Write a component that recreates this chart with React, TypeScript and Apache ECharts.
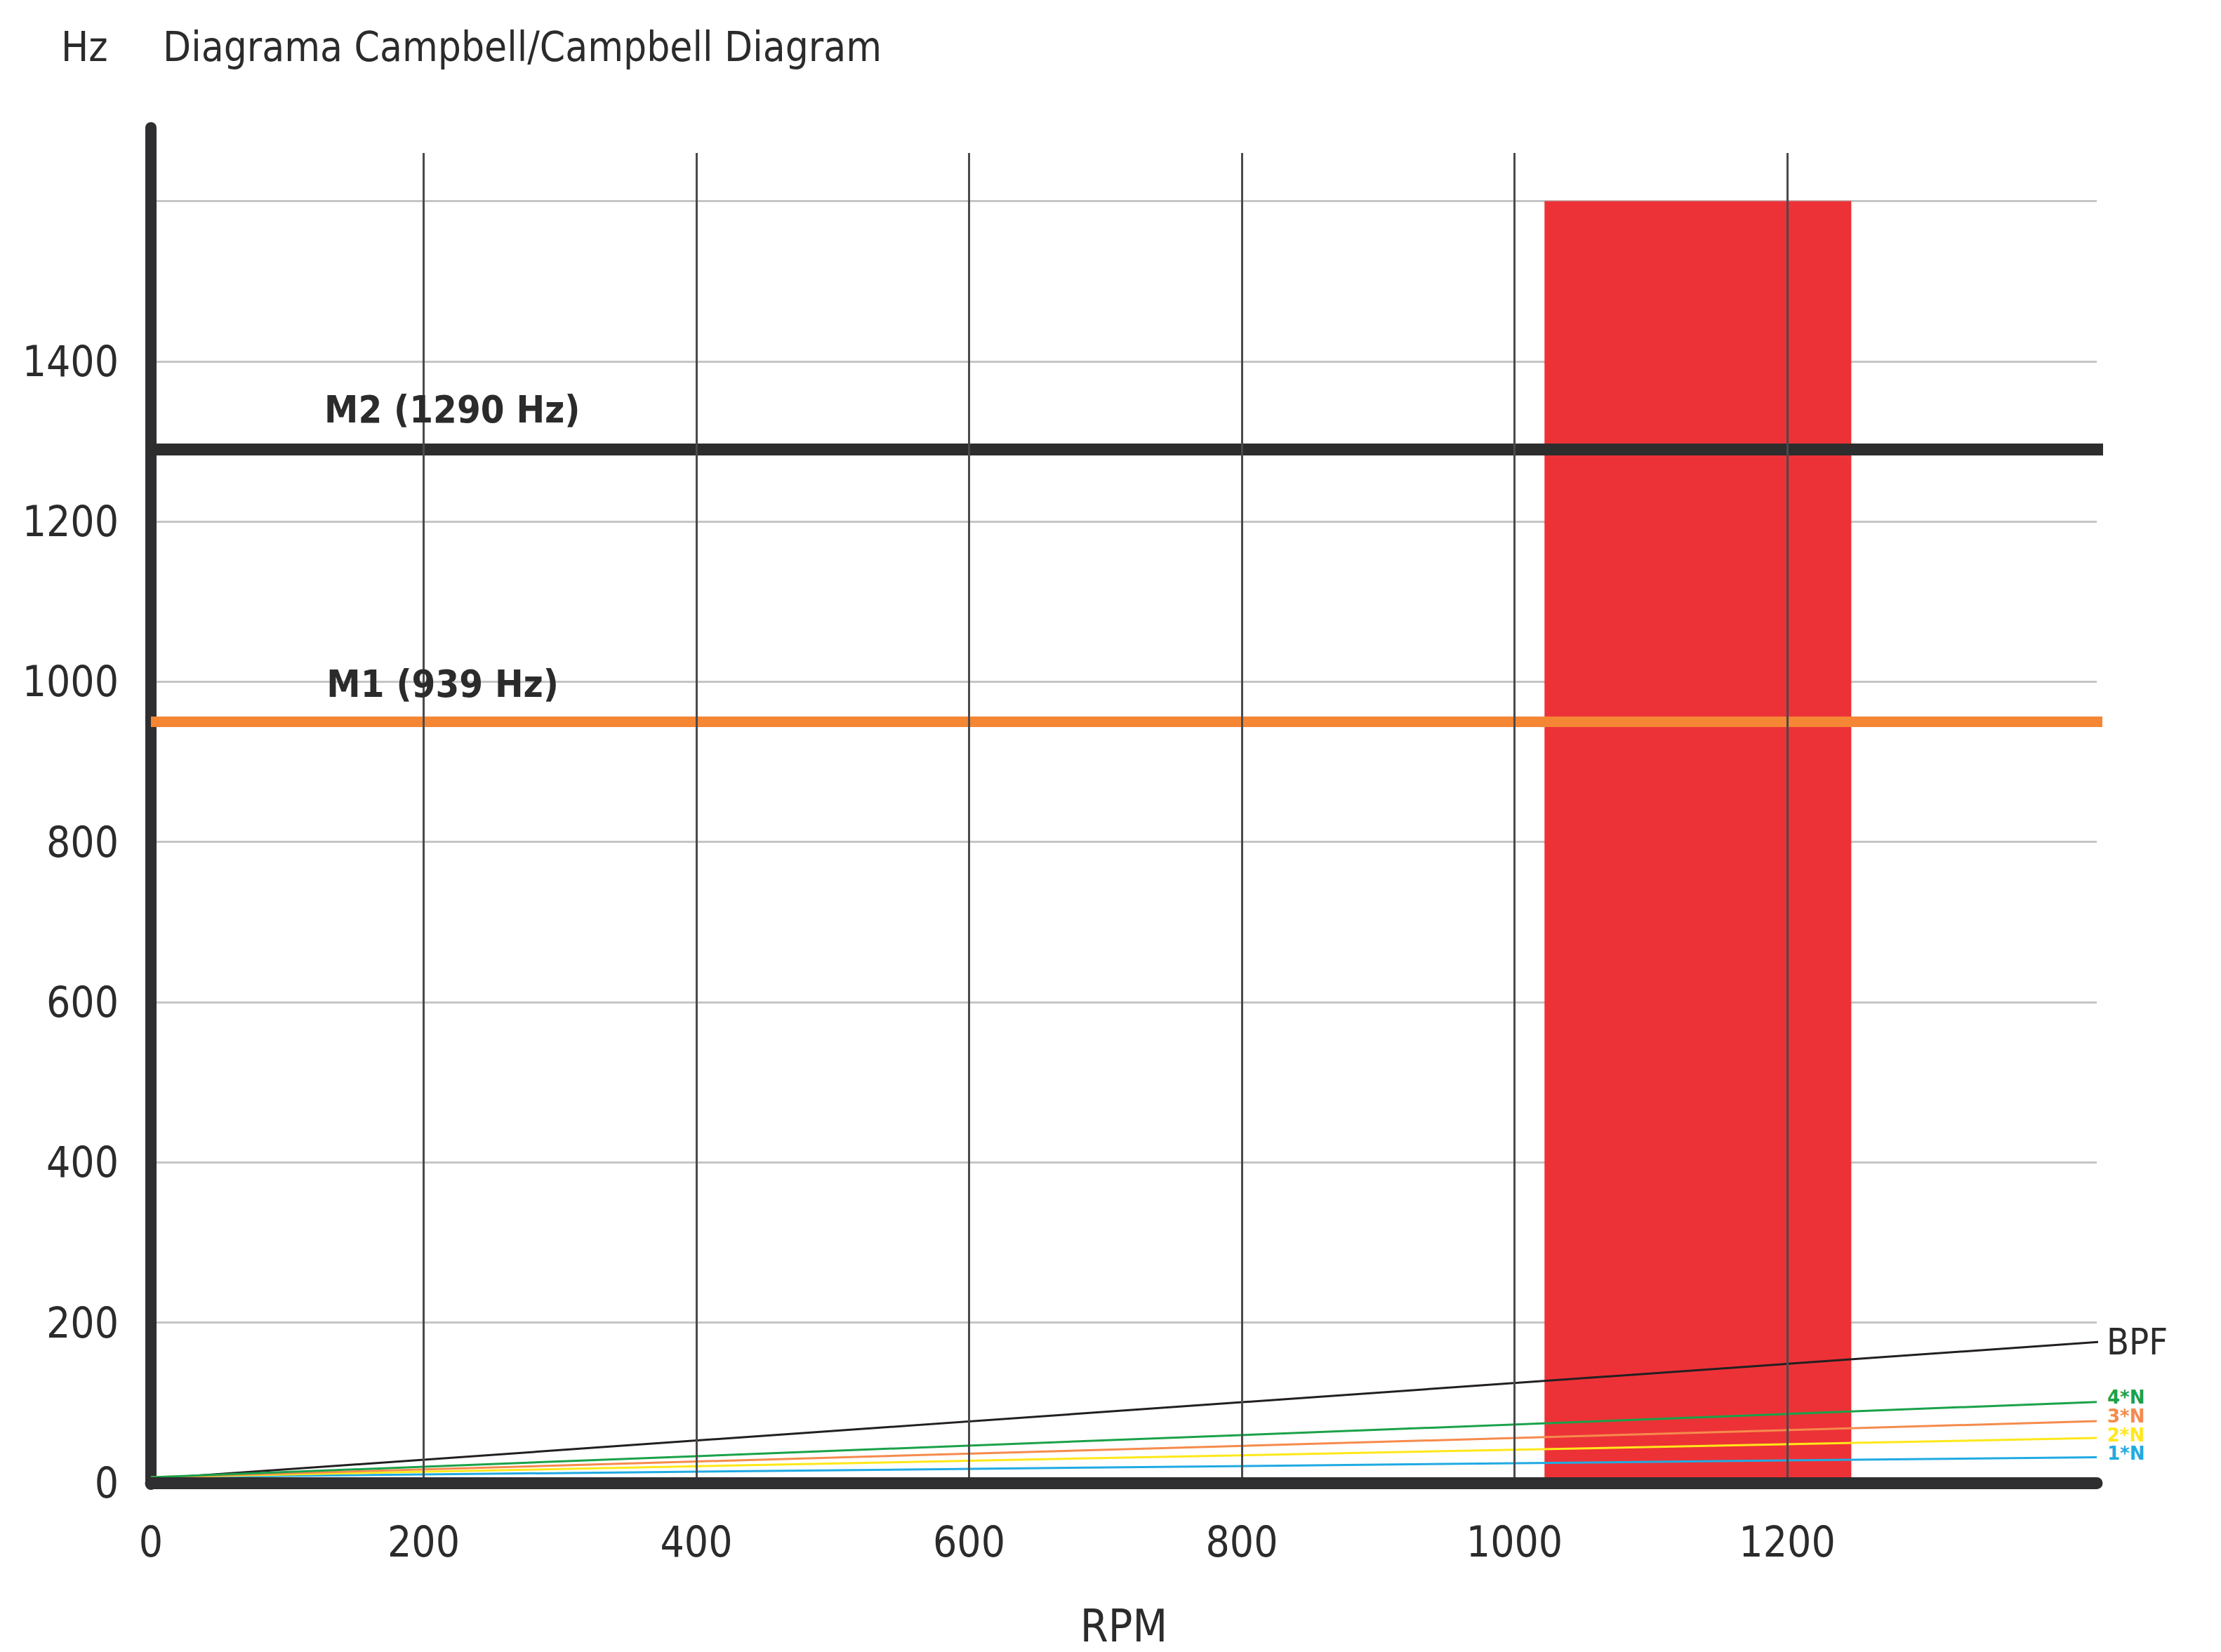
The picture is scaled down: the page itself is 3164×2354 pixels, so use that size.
import { useEffect, useRef } from "react";
import * as echarts from "echarts";

// ---- data ----
const TITLE = "Diagrama Campbell/Campbell Diagram";
const Y_UNIT = "Hz";
const X_NAME = "RPM";
const RPM_MIN = 0;
const RPM_MAX = 1427;
const RPM_STEP = 200;
const HZ_MIN = 0;
const HZ_MAX = 1660;
const HZ_AXIS_TOP = 1692;
const HZ_STEP = 200;
const X_TICK_LABELS = [0, 200, 400, 600, 800, 1000, 1200];
const Y_TICK_LABELS = [0, 200, 400, 600, 800, 1000, 1200, 1400];

const M1_HZ = 950;
const M1_LABEL = "M1 (939 Hz)";
const M1_LABEL_RPM = 214;
const M2_HZ = 1290;
const M2_LABEL = "M2 (1290 Hz)";
const M2_LABEL_RPM = 221;
const MODE_RPM = [0, 1432];

const ZONE_RPM_FROM = 1022;
const ZONE_RPM_TO = 1247;
const ZONE_HZ_TOP = 1600;

const ORDER_RPM = [0, 1427];
const ORDER_NAMES = ["1*N", "2*N", "3*N", "4*N"];
const ORDER_1N = [7, 32];
const ORDER_2N = [7, 56];
const ORDER_3N = [7, 77];
const ORDER_4N = [7, 101];
const BPF_NAME = "BPF";
const BPF_RPM = [0, 1438];
const BPF_HZ = [5, 177];

// ---- styles ----
const NARROW = '"Liberation Sans Narrow", "Arial Narrow", "DejaVu Sans Condensed", sans-serif';
const WIDE = '"DejaVu Sans", sans-serif';
const TEXT = "#2b2b2b";
const AXIS = "#2f2e30";
const ORDER_COLORS = ["#20aae2", "#ffe81a", "#f58b4c", "#1aa24a"];
const ORDER_LABEL_DY = [-5, -4, -7, -7];
const VGRID = "#4a4a4c";

function pts(xs: number[], ys: number[]) {
  return xs.map((x, i) => [x, ys[i]]);
}

export default function App() {
  const ref = useRef<HTMLDivElement>(null);

  useEffect(() => {
    if (!ref.current) return;
    const chart = echarts.init(ref.current, undefined, { renderer: "svg" });
    const orderData = [ORDER_1N, ORDER_2N, ORDER_3N, ORDER_4N];

    // one colour per drawn vertical split line (min line is skipped)
    const xGridColors: string[] = [];
    for (let v = RPM_MIN + RPM_STEP; v <= RPM_MAX; v += RPM_STEP) {
      xGridColors.push(X_TICK_LABELS.includes(v) ? VGRID : "rgba(0,0,0,0)");
    }

    const orderSeries = orderData.map((ys, i) => ({
      name: ORDER_NAMES[i],
      type: "line",
      data: pts(ORDER_RPM, ys),
      symbol: "none",
      clip: false,
      z: 3,
      lineStyle: { color: ORDER_COLORS[i], width: 3 },
      endLabel: {
        show: true,
        formatter: ORDER_NAMES[i],
        color: ORDER_COLORS[i],
        fontSize: 26,
        fontWeight: "bold",
        lineHeight: 25,
        fontFamily: WIDE,
        distance: 15,
        offset: [0, ORDER_LABEL_DY[i]],
      },
    }));

    chart.setOption({
      animation: false,
      backgroundColor: "#ffffff",
      title: {
        text: TITLE,
        left: 232,
        top: 38,
        padding: 0,
        textStyle: { fontSize: 58, fontWeight: "normal", fontFamily: NARROW, color: TEXT },
      },
      graphic: [
        {
          type: "text",
          left: 87,
          top: 38,
          style: { text: Y_UNIT, fontSize: 58, fontFamily: NARROW, fill: TEXT },
        },
      ],
      grid: [
        { left: 215, right: 177, top: 218, bottom: 239, containLabel: false },
        { left: 215, width: 1, top: 182, bottom: 239, containLabel: false },
      ],
      xAxis: [
        {
          type: "value",
          gridIndex: 0,
          min: RPM_MIN,
          max: RPM_MAX,
          interval: RPM_STEP,
          z: 5,
          name: X_NAME,
          nameLocation: "middle",
          nameGap: 172,
          nameTextStyle: { fontSize: 64, fontFamily: NARROW, color: TEXT },
          axisLine: { show: true, onZero: false, lineStyle: { color: AXIS, width: 17 } },
          axisTick: { show: false },
          axisLabel: {
            margin: 54,
            fontSize: 60,
            fontFamily: NARROW,
            color: TEXT,
            showMaxLabel: false,
            formatter: (v: number) => (X_TICK_LABELS.includes(v) ? String(v) : ""),
          },
          splitLine: {
            show: true,
            showMinLine: false,
            showMaxLine: false,
            lineStyle: { color: xGridColors, width: 3 },
          },
        },
        {
          type: "value",
          gridIndex: 1,
          min: 0,
          max: 1,
          show: false,
        },
      ],
      yAxis: [
        {
          type: "value",
          gridIndex: 0,
          min: HZ_MIN,
          max: HZ_MAX,
          interval: HZ_STEP,
          z: 0,
          axisLine: { show: true, onZero: false, lineStyle: { color: AXIS, width: 16 } },
          axisTick: { show: false },
          axisLabel: {
            margin: 46,
            fontSize: 60,
            fontFamily: NARROW,
            color: TEXT,
            showMaxLabel: false,
            formatter: (v: number) => (Y_TICK_LABELS.includes(v) ? String(v) : ""),
          },
          splitLine: {
            show: true,
            showMinLine: false,
            showMaxLine: false,
            lineStyle: { color: "#c4c5c7", width: 3 },
          },
        },
        {
          type: "value",
          gridIndex: 1,
          min: HZ_MIN,
          max: HZ_AXIS_TOP,
          z: 0,
          axisLine: { show: true, onZero: false, lineStyle: { color: AXIS, width: 16 } },
          axisTick: { show: false },
          axisLabel: { show: false },
          splitLine: { show: false },
        },
      ],
      series: [
        {
          name: "Zone",
          type: "custom",
          z: 1,
          data: [[ZONE_RPM_FROM, ZONE_RPM_TO, ZONE_HZ_TOP]],
          encode: { x: [0, 1], y: 2 },
          renderItem: (_params: any, api: any) => {
            const p0 = api.coord([api.value(0), HZ_MIN]);
            const p1 = api.coord([api.value(1), api.value(2)]);
            return {
              type: "rect",
              shape: { x: p0[0], y: p1[1], width: p1[0] - p0[0], height: p0[1] - p1[1] },
              style: { fill: "#ec3237" },
            };
          },
        },
        {
          name: "M2",
          type: "line",
          data: pts(MODE_RPM, [M2_HZ, M2_HZ]),
          symbol: "none",
          clip: false,
          z: 2,
          lineStyle: { color: "#2e2d2e", width: 17 },
          markPoint: {
            symbol: "circle",
            symbolSize: 0,
            label: {
              show: true,
              formatter: M2_LABEL,
              position: "inside",
              offset: [0, -57],
              fontSize: 54,
              fontWeight: "bold",
              fontFamily: NARROW,
              color: TEXT,
            },
            data: [{ coord: [M2_LABEL_RPM, M2_HZ] }],
          },
        },
        {
          name: "M1",
          type: "line",
          data: pts(MODE_RPM, [M1_HZ, M1_HZ]),
          symbol: "none",
          clip: false,
          z: 2,
          lineStyle: { color: "#f58634", width: 15 },
          markPoint: {
            symbol: "circle",
            symbolSize: 0,
            label: {
              show: true,
              formatter: M1_LABEL,
              position: "inside",
              offset: [0, -54],
              fontSize: 54,
              fontWeight: "bold",
              fontFamily: NARROW,
              color: TEXT,
            },
            data: [{ coord: [M1_LABEL_RPM, M1_HZ] }],
          },
        },
        {
          name: BPF_NAME,
          type: "line",
          data: pts(BPF_RPM, BPF_HZ),
          symbol: "none",
          clip: false,
          z: 3,
          lineStyle: { color: "#231f20", width: 3 },
          endLabel: {
            show: true,
            formatter: BPF_NAME,
            color: TEXT,
            fontSize: 52,
            fontFamily: NARROW,
            distance: 12,
          },
        },
        ...orderSeries,
      ],
    } as any);

    return () => chart.dispose();
  }, []);

  return (
    <div
      ref={ref}
      style={{ position: "absolute", left: 0, top: 0, width: 3164, height: 2354, background: "#fff" }}
    />
  );
}
